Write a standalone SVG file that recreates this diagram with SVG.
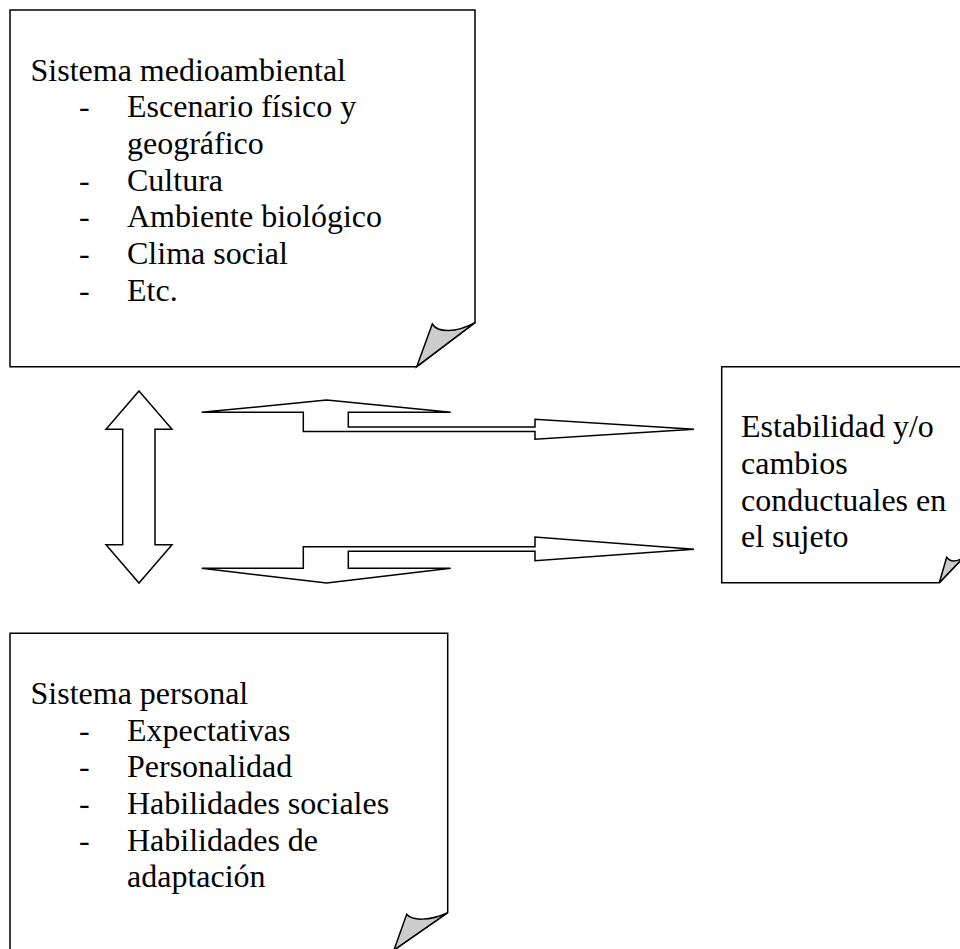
<svg xmlns="http://www.w3.org/2000/svg" width="960" height="949" viewBox="0 0 960 949">
<style>
.box{fill:#fff;stroke:#000;stroke-width:1.5;stroke-linejoin:miter}
.fold{fill:#cccccc;stroke:#000;stroke-width:1.5;stroke-linejoin:miter}
.arr{fill:#fff;stroke:#000;stroke-width:1.5;stroke-linejoin:miter}
text{font-family:"Liberation Serif","Times New Roman",serif;font-size:32px;fill:#000}
</style>
<rect width="960" height="949" fill="#fff"/>
<g id="node-medioambiental">
<path class="box" d="M10,10 H475 V322.7 L416.7,366.7 H10 Z"/>
<path class="fold" d="M416.7,366.7 L432.3,324 C438,333 456,333 475,322.7 Z"/>
<text x="30.5" y="80.7">Sistema medioambiental</text>
<text x="79" y="117.3">-</text><text x="127" y="117.3">Escenario físico y</text>
<text x="127" y="154">geográfico</text>
<text x="79" y="190.7">-</text><text x="127" y="190.7">Cultura</text>
<text x="79" y="227.3">-</text><text x="127" y="227.3">Ambiente biológico</text>
<text x="79" y="264">-</text><text x="127" y="264">Clima social</text>
<text x="79" y="300.7">-</text><text x="127" y="300.7">Etc.</text>
</g>
<g id="node-estabilidad">
<path class="box" d="M721.7,366.7 H963 V558 L939.3,582.7 H721.7 Z"/>
<path class="fold" d="M939.3,582.7 L946.7,557.3 C950,562 956,562 963,558 Z"/>
<text x="741" y="437.3">Estabilidad y/o</text>
<text x="741" y="474">cambios</text>
<text x="741" y="510.7">conductuales en</text>
<text x="741" y="547.3">el sujeto</text>
</g>
<g id="node-personal">
<path class="box" d="M10,633.3 H447.7 V912.7 L394,950 H10 Z"/>
<path class="fold" d="M394,950 L406.7,914.3 C412,921 430,921 447.7,912.7 Z"/>
<text x="30.5" y="704">Sistema personal</text>
<text x="79" y="740.7">-</text><text x="127" y="740.7">Expectativas</text>
<text x="79" y="777.3">-</text><text x="127" y="777.3">Personalidad</text>
<text x="79" y="814">-</text><text x="127" y="814">Habilidades sociales</text>
<text x="79" y="850.7">-</text><text x="127" y="850.7">Habilidades de</text>
<text x="127" y="887.3">adaptación</text>
</g>
<g id="connectors">
<path class="arr" d="M139,391 L172,429.3 L155,429.3 L155,544.7 L172,544.7 L139,583 L106,544.7 L122.7,544.7 L122.7,429.3 L106,429.3 Z"/>
<path class="arr" d="M694,429.3 L535,419.3 L535,427 L348.3,427 L348.3,412.3 L450.7,412.3 L326.7,400 L201.7,412.3 L303.3,412.3 L303.3,431.5 L535,431.5 L535,439.3 Z"/>
<path class="arr" d="M694,549.3 L535,537 L535,546.7 L303.3,546.7 L303.3,568.3 L201.7,568.3 L326.7,583 L450.7,568.3 L348.3,568.3 L348.3,551.3 L535,551.3 L535,560.7 Z"/>
</g>
</svg>
